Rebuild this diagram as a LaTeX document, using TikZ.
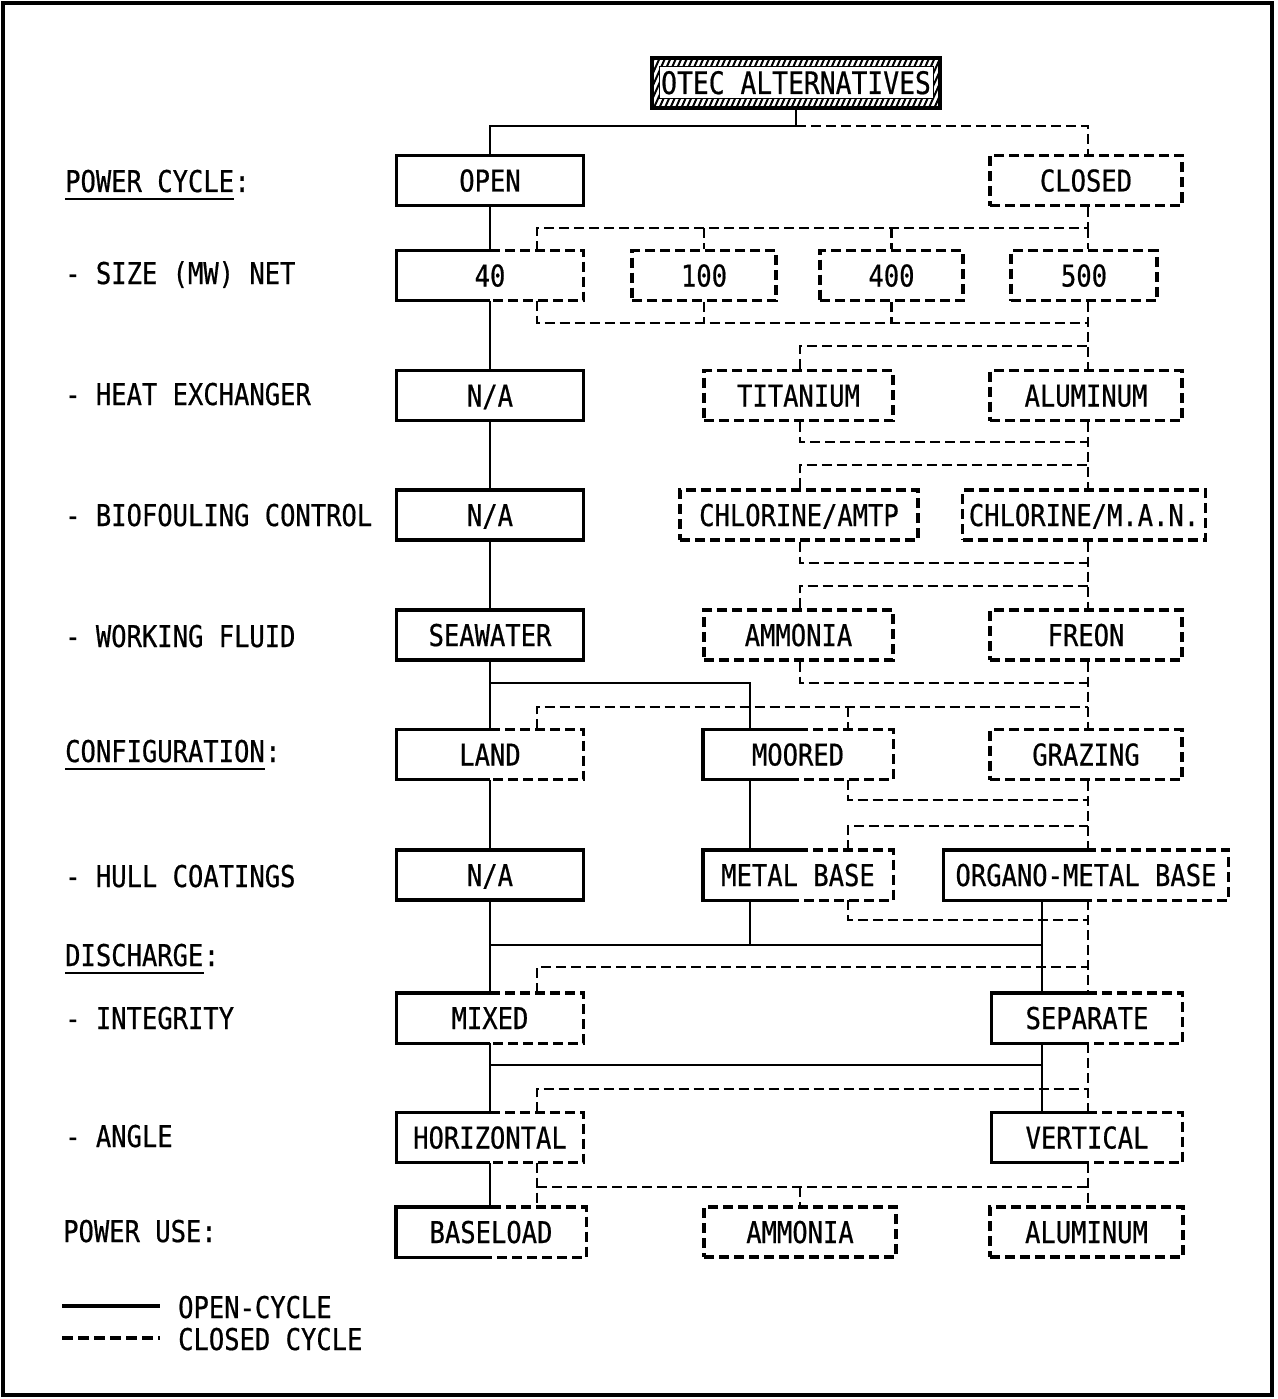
\documentclass[tikz,border=0pt]{standalone}
\usepackage{fontspec}
\newfontfamily\dfont{DejaVu Sans Mono}[FakeStretch=0.85,FakeBold=0.6]
\usetikzlibrary{calc}
\newcommand\halfsolid[1]{%
  \draw[line width=3.4pt] (#1.north) -- (#1.north west) -- (#1.south west) -- (#1.south);
  \draw[line width=3.4pt, dash pattern=on 10pt off 5pt] (#1.north) -- (#1.north east) -- (#1.south east) -- (#1.south);}
\begin{document}
\begin{tikzpicture}[x=1pt,y=-1pt,
  every node/.style={font=\dfont\fontsize{30pt}{30pt}\selectfont},
  bx/.style={minimum width=#1, minimum height=50pt, inner sep=0pt, text height=22pt, text depth=0pt},
  solidbox/.style={bx=#1, draw, line width=3.4pt},
  dashbox/.style={bx=#1, draw, line width=3.4pt, dash pattern=on 10pt off 5pt},
  mixbox/.style={bx=#1},
  oc/.style={line width=2.6pt},
  cc/.style={line width=2.6pt, dash pattern=on 10pt off 5pt},
  lbl/.style={anchor=base west, inner sep=0pt},
  uline/.style={line width=2.2pt},
]
\useasboundingbox (0,0) rectangle (1277,1399);
\draw[line width=3.5pt] (3,3) rectangle (1272,1395);

% ---- title (hatched frame)
\begin{scope}
\clip (652,58) rectangle (940,108);
\foreach \i in {0,...,60} \draw[line width=2pt] (630+5.5*\i,112) -- (656+5.5*\i,54);
\end{scope}
\fill[white] (659,67) rectangle (933,99);
\draw[line width=1pt] (659,67) rectangle (933,99);
\draw[line width=3.4pt] (652,58) rectangle (940,108);
\node[bx=288pt, font=\dfont\fontsize{31pt}{31pt}\selectfont] (title) at (796,83) {OTEC ALTERNATIVES};

% ---- boxes
\node[solidbox=187pt] (open) at (490,180.5) {OPEN};
\node[dashbox=192pt] (closed) at (1086,180.5) {CLOSED};

\node[mixbox=187pt] (s40) at (490,275.5) {40};
\node[dashbox=144pt] (s100) at (704,275.5) {100};
\node[dashbox=143pt] (s400) at (891.5,275.5) {400};
\node[dashbox=146pt] (s500) at (1084,275.5) {500};

\node[solidbox=187pt] (hxna) at (490,395.5) {N/A};
\node[dashbox=189pt] (ti) at (798.5,395.5) {TITANIUM};
\node[dashbox=192pt] (al) at (1086,395.5) {ALUMINUM};

\node[solidbox=187pt] (bfna) at (490,515) {N/A};
\node[dashbox=238pt] (amtp) at (799,515) {CHLORINE/AMTP};
\node[dashbox=243pt] (man) at (1084,515) {CHLORINE/M.A.N.};

\node[solidbox=187pt] (sw) at (490,635) {SEAWATER};
\node[dashbox=189pt] (amm) at (798.5,635) {AMMONIA};
\node[dashbox=192pt] (fre) at (1086,635) {FREON};

\node[mixbox=187pt] (land) at (490,754.5) {LAND};
\node[mixbox=190pt] (moor) at (798,754.5) {MOORED};
\node[dashbox=192pt] (graz) at (1086,754.5) {GRAZING};

\node[solidbox=187pt] (hcna) at (490,875) {N/A};
\node[mixbox=190pt] (metal) at (798,875) {METAL BASE};
\node[mixbox=285pt] (organo) at (1086,875) {ORGANO-METAL BASE};

\node[mixbox=187pt] (mixed) at (490,1018) {MIXED};
\node[mixbox=191pt] (sep) at (1087,1018) {SEPARATE};

\node[mixbox=187pt] (hor) at (490,1137.5) {HORIZONTAL};
\node[mixbox=191pt] (ver) at (1087,1137.5) {VERTICAL};

\node[mixbox=190pt] (base) at (491,1232) {BASELOAD};
\node[dashbox=192pt] (ammu) at (800,1232) {AMMONIA};
\node[dashbox=193pt] (alu) at (1086.5,1232) {ALUMINUM};

\foreach \n in {s40,land,moor,metal,organo,mixed,sep,hor,ver,base} {\halfsolid{\n}}

% ---- reference columns / bus levels
\coordinate (L) at (537,0);
\coordinate (M) at (800,0);
\coordinate (MR) at (848,0);
\coordinate (R) at (1088,0);
\coordinate (SM) at (750,0);
\coordinate (SR) at (1042,0);
\coordinate (j0) at (796,126);
\coordinate (a1) at (0,228);
\coordinate (a2) at (0,323);
\coordinate (a3) at (0,346);
\coordinate (a4) at (0,442);
\coordinate (a5) at (0,465);
\coordinate (a6) at (0,563);
\coordinate (a7) at (0,586);
\coordinate (a8) at (0,683);
\coordinate (a9) at (0,707);
\coordinate (a10) at (0,800);
\coordinate (a11) at (0,826);
\coordinate (a12) at (0,920);
\coordinate (a13) at (0,967);
\coordinate (a14) at (0,1089);
\coordinate (a15) at (0,1187);
\coordinate (b1) at (0,945);
\coordinate (b2) at (0,1065);

% ---- open-cycle (solid) connectors
\draw[oc] (title.south) -- (j0) -| (open.north);
\draw[oc] (open.south) -- (s40.north);
\draw[oc] (s40.south) -- (hxna.north);
\draw[oc] (hxna.south) -- (bfna.north);
\draw[oc] (bfna.south) -- (sw.north);
\draw[oc] (sw.south) -- (land.north);
\draw[oc] (sw.south |- a8) -- (SM |- a8) -- (SM |- moor.north);
\draw[oc] (land.south) -- (hcna.north);
\draw[oc] (SM |- moor.south) -- (SM |- metal.north);
\draw[oc] (hcna.south) -- (mixed.north);
\draw[oc] (SM |- metal.south) -- (SM |- b1);
\draw[oc] (hcna.south |- b1) -- (SR |- b1);
\draw[oc] (SR |- organo.south) -- (SR |- sep.north);
\draw[oc] (mixed.south) -- (hor.north);
\draw[oc] (mixed.south |- b2) -- (SR |- b2);
\draw[oc] (SR |- sep.south) -- (SR |- ver.north);
\draw[oc] (hor.south) -- (hor.south |- base.north);

% ---- closed-cycle (dashed) connectors
\draw[cc] (j0) -| (R |- closed.north);
\draw[cc] (R |- closed.south) -- (R |- a1) -- (L |- a1) -- (L |- s40.north);
\draw[cc] (s100.north |- a1) -- (s100.north);
\draw[cc] (s400.north |- a1) -- (s400.north);
\draw[cc] (R |- a1) -- (R |- s500.north);
\draw[cc] (L |- s40.south) -- (L |- a2) -- (R |- a2);
\draw[cc] (s100.south) -- (s100.south |- a2);
\draw[cc] (s400.south) -- (s400.south |- a2);
\draw[cc] (R |- s500.south) -- (R |- al.north);
\draw[cc] (M |- ti.north) -- (M |- a3) -- (R |- a3);
\draw[cc] (M |- ti.south) -- (M |- a4) -- (R |- a4);
\draw[cc] (R |- al.south) -- (R |- man.north);
\draw[cc] (M |- amtp.north) -- (M |- a5) -- (R |- a5);
\draw[cc] (M |- amtp.south) -- (M |- a6) -- (R |- a6);
\draw[cc] (R |- man.south) -- (R |- fre.north);
\draw[cc] (M |- amm.north) -- (M |- a7) -- (R |- a7);
\draw[cc] (M |- amm.south) -- (M |- a8) -- (R |- a8);
\draw[cc] (R |- fre.south) -- (R |- graz.north);
\draw[cc] (L |- land.north) -- (L |- a9) -- (R |- a9);
\draw[cc] (MR |- a9) -- (MR |- moor.north);
\draw[cc] (MR |- moor.south) -- (MR |- a10) -- (R |- a10);
\draw[cc] (R |- graz.south) -- (R |- organo.north);
\draw[cc] (MR |- metal.north) -- (MR |- a11) -- (R |- a11);
\draw[cc] (MR |- metal.south) -- (MR |- a12) -- (R |- a12);
\draw[cc] (R |- organo.south) -- (R |- sep.north);
\draw[cc] (L |- mixed.north) -- (L |- a13) -- (R |- a13);
\draw[cc] (R |- sep.south) -- (R |- ver.north);
\draw[cc] (L |- hor.north) -- (L |- a14) -- (R |- a14);
\draw[cc] (L |- hor.south) -- (L |- base.north);
\draw[cc] (L |- a15) -- (R |- a15);
\draw[cc] (M |- a15) -- (ammu.north);
\draw[cc] (R |- ver.south) -- (R |- alu.north);

% ---- left labels
\node[lbl] (pc) at (65,192) {POWER CYCLE};
\node[lbl] (pcc) at (pc.base east) {:};
\draw[uline] ([yshift=-7pt]pc.base west) -- ([yshift=-7pt]pc.base east);
\node[lbl] (lsz) at (65,284) {- SIZE (MW) NET};
\node[lbl] (lhx) at (65,405) {- HEAT EXCHANGER};
\node[lbl] (lbf) at (65,526) {- BIOFOULING CONTROL};
\node[lbl] (lwf) at (65,647) {- WORKING FLUID};
\node[lbl] (cf) at (65,762) {CONFIGURATION};
\node[lbl] (cfc) at (cf.base east) {:};
\draw[uline] ([yshift=-7pt]cf.base west) -- ([yshift=-7pt]cf.base east);
\node[lbl] (lhc) at (65,887) {- HULL COATINGS};
\node[lbl] (dc) at (65,966) {DISCHARGE};
\node[lbl] (dcc) at (dc.base east) {:};
\draw[uline] ([yshift=-7pt]dc.base west) -- ([yshift=-7pt]dc.base east);
\node[lbl] (lin) at (65,1029) {- INTEGRITY};
\node[lbl] (lan) at (65,1147) {- ANGLE};
\node[lbl] (lpu) at (63,1242) {POWER USE:};

% ---- legend
\coordinate (lg1a) at (62,1306);
\coordinate (lg1b) at (160,1306);
\coordinate (lg2a) at (62,1338);
\coordinate (lg2b) at (160,1338);
\draw[line width=4pt] (lg1a) -- (lg1b);
\draw[line width=4pt, dash pattern=on 11pt off 5pt] (lg2a) -- (lg2b);
\node[lbl] (lgo) at (178,1318) {OPEN-CYCLE};
\node[lbl] (lgc) at (178,1350) {CLOSED CYCLE};
\end{tikzpicture}
\end{document}
